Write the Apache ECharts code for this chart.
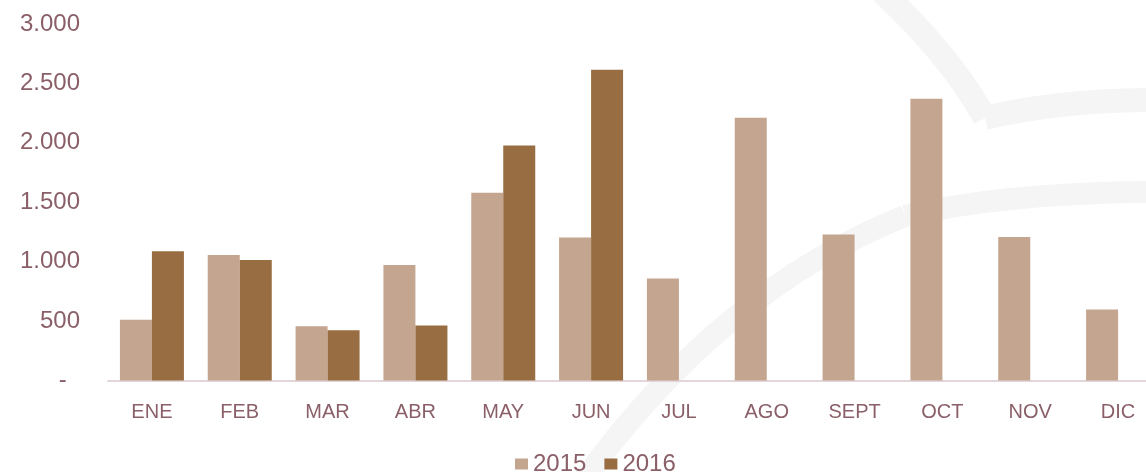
<!DOCTYPE html>
<html>
<head>
<meta charset="utf-8">
<script src="https://cdn.jsdelivr.net/npm/echarts@6/dist/echarts.min.js"></script>
<style>
html,body{margin:0;padding:0;background:#fff;}
#chart{width:1146px;height:472px;}
</style>
</head>
<body>
<div id="chart"></div>
<script>
const categories = ['ENE','FEB','MAR','ABR','MAY','JUN','JUL','AGO','SEPT','OCT','NOV','DIC'];
const series2015 = [512, 1056, 457, 973, 1580, 1203, 858, 2212, 1228, 2372, 1208, 597];
const series2016 = [1087, 1015, 423, 463, 1977, 2616, null, null, null, null, null, null];
const seriesNames = ['2015', '2016'];
const yTicks = { min: 0, max: 3000, interval: 500 };

const textColor = '#8a5f68';
const chart = echarts.init(document.getElementById('chart'), null, {renderer: 'canvas'});

function fmt(v) {
  if (v === 0) return '-  ';
  return String(v).replace(/\B(?=(\d{3})+(?!\d))/g, '.');
}

function curve(x1, y1, cx, cy, x2, y2, w) {
  return {
    type: 'bezierCurve', z: -10, silent: true,
    shape: { x1: x1, y1: y1, cpx1: cx, cpy1: cy, x2: x2, y2: y2 },
    style: { fill: null, stroke: '#f5f5f5', lineWidth: w }
  };
}

chart.setOption({
  animation: false,
  backgroundColor: '#ffffff',
  graphic: [
    curve(880, -10, 950, 55, 985, 118, 24),
    curve(985, 118, 1060, 100, 1160, 100, 24),
    curve(580, 485, 720, 290, 905, 216, 22),
    curve(905, 216, 1010, 192, 1160, 192, 22)
  ],
  grid: { left: 108, width: 1054, top: 24, bottom: 91.5, containLabel: false, outerBoundsMode: 'none' },
  legend: {
    data: seriesNames,
    top: 447,
    left: 510,
    itemWidth: 13, itemHeight: 11, itemGap: 18,
    icon: 'rect',
    textStyle: { color: textColor, fontSize: 24, fontFamily: 'Liberation Sans' }
  },
  xAxis: {
    type: 'category',
    data: categories,
    axisLine: { lineStyle: { color: '#e3d6da', width: 2 } },
    axisTick: { show: false },
    axisLabel: { color: textColor, fontSize: 20, fontFamily: 'Liberation Sans', margin: 22 }
  },
  yAxis: {
    type: 'value',
    min: yTicks.min, max: yTicks.max, interval: yTicks.interval,
    splitLine: { show: false },
    axisLine: { show: false },
    axisTick: { show: false },
    axisLabel: { color: textColor, fontSize: 24, fontFamily: 'Liberation Sans', margin: 28, formatter: fmt }
  },
  series: [
    {
      name: seriesNames[0], type: 'bar', data: series2015,
      barWidth: 32, barGap: '0%',
      itemStyle: { color: '#c4a690' }
    },
    {
      name: seriesNames[1], type: 'bar', data: series2016,
      barWidth: 32, barGap: '0%',
      itemStyle: { color: '#986d42' }
    }
  ]
});
</script>
</body>
</html>
